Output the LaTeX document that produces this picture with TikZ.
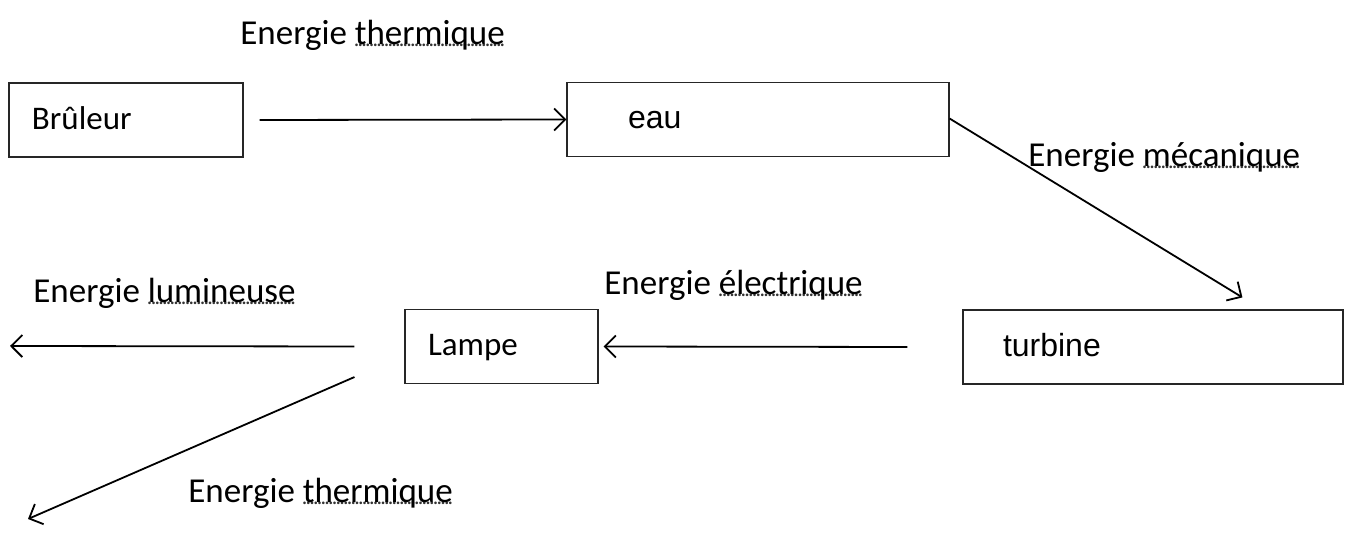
\documentclass[tikz,border=0pt]{standalone}
\usepackage{fontspec}
\setmainfont{Carlito}
\newfontfamily\arialfont{Liberation Sans}
\usetikzlibrary{arrows.meta, positioning, calc}
\newsavebox{\spellbox}
\newcommand{\spellmark}[1]{\sbox{\spellbox}{#1}%
  \rlap{\raisebox{-0.06em}{\hbox to \wd\spellbox{\color{black!80}\fontsize{11}{11}\selectfont\xleaders\hbox to 0.17em{\hss.\hss}\hfill}}}\usebox{\spellbox}}

\begin{document}
\begin{tikzpicture}[x=0.5pt,y=-0.5pt,font=\fontsize{16.5}{20}\selectfont,
  box/.style={draw=black!85,line width=0.55pt,minimum height=37pt,text height=2.0ex,text depth=0.1ex,align=left},
  label/.style={anchor=west,inner sep=0pt,font=\fontsize{17.5}{21}\selectfont},
  arrow/.style={-{Straight Barb[length=5.5pt,width=11pt]},line width=0.9pt}]
  \useasboundingbox (0,0) rectangle (1346,539);
  % boxes
  \node[box,text width=94pt,inner xsep=11.5pt] (brul) at (126,120) {Brûleur};
  \node[box,text width=130pt,inner xsep=30.5pt,font=\arialfont\fontsize{16}{19}\selectfont] (eau) at (758,119.5) {eau};
  \node[box,text width=150pt,inner xsep=20pt,font=\arialfont\fontsize{16}{19}\selectfont] (turb) at (1153,347) {turbine};
  \node[box,text width=73.5pt,inner xsep=11.5pt] (lamp) at (501.5,346.5) {Lampe};
  % free ends
  \coordinate (lightend) at (10,346);
  \coordinate (heatend) at (28,519);
  % arrows
  \draw[arrow] ([xshift=8pt]brul.east) -- (eau.west);
  \draw[arrow] ([yshift=0.5pt]eau.east) -- ([xshift=140pt,yshift=6pt]turb.north west);
  \draw[arrow] ([xshift=-27.5pt]turb.west) -- ([xshift=2.5pt]lamp.east);
  \draw[arrow] ([xshift=-25pt]lamp.west) -- (lightend);
  \draw[arrow] ([xshift=-25pt,yshift=3.5pt]lamp.south west) -- (heatend);
  % labels
  \node[label] (thermtop) at (240,35) {Energie \spellmark{thermique}};
  \node[label] (meca) at (1028,157) {Energie \spellmark{mécanique}};
  \node[label] (elec) at (604,285) {Energie \spellmark{électrique}};
  \node[label] (lum) at (33,293) {Energie \spellmark{lumineuse}};
  \node[label] (thermbot) at (188,493) {Energie \spellmark{thermique}};
\end{tikzpicture}
\end{document}
